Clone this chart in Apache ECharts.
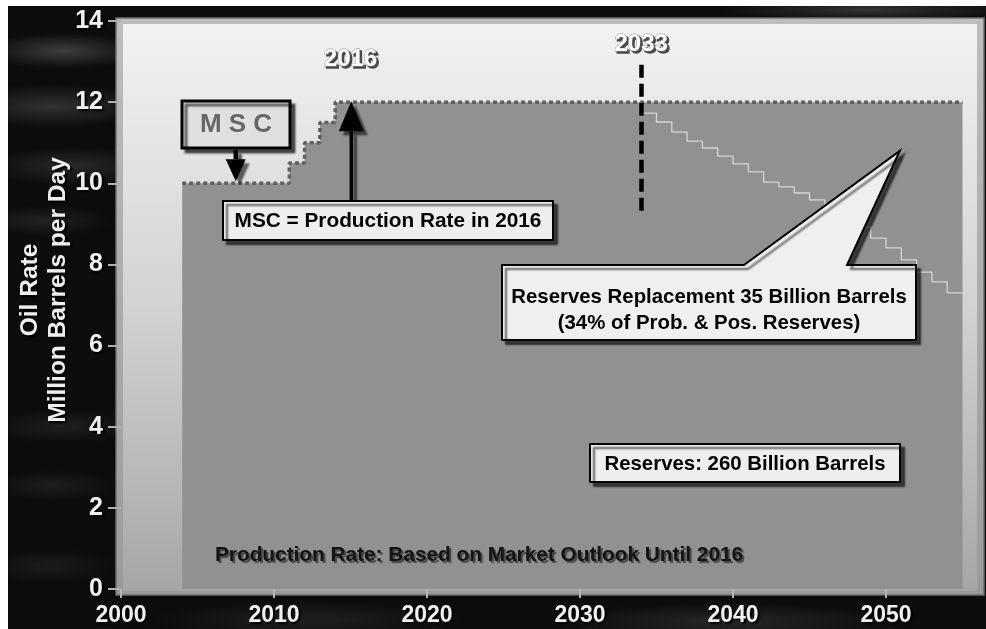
<!DOCTYPE html>
<html>
<head>
<meta charset="utf-8">
<title>Oil Rate Outlook</title>
<script src="https://cdn.jsdelivr.net/npm/echarts@6/dist/echarts.min.js"></script>
<style>
  html, body { margin: 0; padding: 0; background: #fff; }
  #wrap { position: relative; width: 986px; height: 629px; background: #fff; overflow: hidden; }
  #bg {
    position: absolute; left: 8px; top: 6px; width: 978px; height: 623px;
    background:
      radial-gradient(ellipse 80px 18px at 55px 45px, rgba(120,120,120,0.45), rgba(0,0,0,0) 100%),
      radial-gradient(ellipse 100px 22px at 45px 100px, rgba(105,105,105,0.4), rgba(0,0,0,0) 100%),
      radial-gradient(ellipse 90px 20px at 65px 160px, rgba(95,95,95,0.35), rgba(0,0,0,0) 100%),
      radial-gradient(ellipse 70px 16px at 35px 215px, rgba(85,85,85,0.3), rgba(0,0,0,0) 100%),
      radial-gradient(ellipse 80px 18px at 55px 420px, rgba(75,75,75,0.3), rgba(0,0,0,0) 100%),
      radial-gradient(ellipse 70px 16px at 45px 480px, rgba(75,75,75,0.28), rgba(0,0,0,0) 100%),
      radial-gradient(ellipse 70px 18px at 40px 560px, rgba(70,70,70,0.28), rgba(0,0,0,0) 100%),
      radial-gradient(ellipse 160px 20px at 300px 614px, rgba(70,70,70,0.35), rgba(0,0,0,0) 100%),
      radial-gradient(ellipse 180px 20px at 720px 616px, rgba(80,80,80,0.4), rgba(0,0,0,0) 100%),
      radial-gradient(ellipse 150px 10px at 860px 4px, rgba(100,100,100,0.45), rgba(0,0,0,0) 100%),
      #0c0c0c;
  }
  #chart { position: absolute; left: 0; top: 0; width: 986px; height: 629px; }
</style>
</head>
<body>
<div id="wrap">
  <div id="bg"></div>
  <div id="chart"></div>
</div>
<script>
// Axis ticks
const xTickYears = [2000, 2010, 2020, 2030, 2040, 2050];
const yTickRates = [0, 2, 4, 6, 8, 10, 12, 14];

// Production plateau (million barrels per day), step changes at the listed years
const productionYears = [2004, 2011, 2012, 2013, 2014, 2055];
const productionRate  = [10, 10.5, 11, 11.5, 12, 12];

// Rate without reserves replacement, declining yearly after the plateau
const declineYears = [2034, 2035, 2036, 2037, 2038, 2039, 2040, 2041, 2042, 2043, 2044,
                      2045, 2046, 2047, 2048, 2049, 2050, 2051, 2052, 2053, 2054, 2055];
const declineRate  = [12, 11.73, 11.51, 11.26, 11.04, 10.87, 10.67, 10.48, 10.28, 10.03, 9.91,
                      9.76, 9.59, 9.40, 9.20, 8.92, 8.65, 8.41, 8.11, 7.81, 7.57, 7.30];

// End of the market-outlook period and the end of the plateau
const mscYear = 2016;
const plateauEndYear = 2034;
const plateauEndLabel = '2033';

const FONT = '"Liberation Sans", Arial, Helvetica, sans-serif';

const chart = echarts.init(document.getElementById('chart'), null, { renderer: 'canvas' });

const zip = (xs, ys) => xs.map((x, i) => [x, ys[i]]);

chart.setOption({
  animation: false,
  backgroundColor: 'transparent',
  grid: { left: 121, right: 23.5, top: 21, bottom: 40 },
  xAxis: {
    type: 'value', min: 2000, max: 2055,
    axisLine: { show: false },
    splitLine: { show: false },
    axisTick: { show: true, customValues: xTickYears, length: 9, lineStyle: { color: '#b5b5b5', width: 2 } },
    axisLabel: {
      customValues: xTickYears,
      formatter: (v) => String(v),
      color: '#f0f0f0', fontFamily: FONT, fontWeight: 'bold', fontSize: 23, margin: 15,
      textShadowColor: '#000', textShadowOffsetX: 2, textShadowOffsetY: 2, textShadowBlur: 2
    }
  },
  yAxis: {
    type: 'value', min: 0, max: 14, interval: 2,
    axisLine: { show: false },
    splitLine: { show: false },
    axisTick: { show: true, length: 13, lineStyle: { color: '#b0b0b0', width: 2 } },
    axisLabel: {
      color: '#f0f0f0', fontFamily: FONT, fontWeight: 'bold', fontSize: 25, margin: 18,
      textShadowColor: '#000', textShadowOffsetX: 2, textShadowOffsetY: 2, textShadowBlur: 2
    }
  },
  series: [
    {
      name: 'Production',
      type: 'line',
      step: 'end',
      data: zip(productionYears, productionRate),
      symbol: 'none',
      z: 2,
      lineStyle: { color: '#5f5f5f', width: 3.5, type: [4, 3] },
      areaStyle: { color: '#919191', opacity: 1 }
    },
    {
      name: 'Decline',
      type: 'line',
      step: 'start',
      data: zip(declineYears, declineRate),
      symbol: 'none',
      z: 3,
      lineStyle: { color: '#d6d6d6', width: 1.3 },
      markLine: {
        silent: true,
        symbol: 'none',
        z: 4,
        label: { show: false },
        lineStyle: { color: '#000', width: 4.5, type: [13, 6] },
        data: [[{ coord: [plateauEndYear, 12.92] }, { coord: [plateauEndYear, 9.22] }]]
      }
    }
  ]
});

const px = (x, y) => chart.convertToPixel({ gridIndex: 0 }, [x, y]);

// Plot panel frame behind the series
const gridTop = px(2000, 14)[1], gridBottom = px(2000, 0)[1];
const panel = [
  {
    type: 'rect', z: -10, silent: true,
    shape: { x: 116, y: gridTop - 3, width: 868, height: gridBottom - gridTop + 9 },
    style: {
      fill: new echarts.graphic.LinearGradient(0, 0, 0, 1, [
        { offset: 0, color: '#bdbdbd' }, { offset: 1, color: '#9a9a9a' }
      ]),
      stroke: '#6e6e6e', lineWidth: 1.5
    }
  },
  {
    type: 'rect', z: -9, silent: true,
    shape: { x: 123, y: gridTop + 3, width: 854, height: gridBottom - gridTop - 1 },
    style: {
      fill: new echarts.graphic.LinearGradient(0, 0, 0, 1, [
        { offset: 0, color: '#f2f2f2' }, { offset: 0.5, color: '#d2d2d2' }, { offset: 1, color: '#a6a6a6' }
      ])
    }
  }
];

const shadow = { shadowColor: 'rgba(0,0,0,0.6)', shadowOffsetX: 4, shadowOffsetY: 4, shadowBlur: 2 };

// Arrow helper: shaft from (x, y0) to the tip (x, y1) with a triangular head
function arrow(x, y0, y1, shaftW, headW, headH) {
  const dir = y1 > y0 ? 1 : -1;
  const base = y1 - dir * headH;
  return [
    {
      type: 'rect', z: 50, silent: true,
      shape: { x: x - shaftW / 2, y: Math.min(y0, base), width: shaftW, height: Math.abs(base - y0) },
      style: Object.assign({ fill: '#000' }, shadow)
    },
    {
      type: 'polygon', z: 50, silent: true,
      shape: { points: [[x - headW / 2, base], [x + headW / 2, base], [x, y1]] },
      style: Object.assign({ fill: '#000' }, shadow)
    }
  ];
}

const mscTip = px(2007.5, 10.05);
const upTip = px(mscYear - 0.95, 12.02);
const calloutTip = px(2050.9, 10.8);
const lbl2016 = px(mscYear - 1, 13.05);
const lbl2033 = px(plateauEndYear, 13.42);

// Raised white year labels: a dark offset copy underneath, then the white face
function embossedLabel(pos, text) {
  const base = {
    fontFamily: FONT, fontWeight: 'bold', fontSize: 24,
    align: 'center', verticalAlign: 'middle', text: text
  };
  return [
    {
      type: 'text', z: 59, silent: true,
      style: Object.assign({ x: pos[0] + 2, y: pos[1] + 2, fill: '#4a4a4a', stroke: '#4a4a4a', lineWidth: 1.5 }, base)
    },
    {
      type: 'text', z: 60, silent: true,
      style: Object.assign({ x: pos[0], y: pos[1], fill: '#ffffff', stroke: '#8a8a8a', lineWidth: 0.8 }, base)
    }
  ];
}

const boxText = (x, y, text, size) => ({
  type: 'text', z: 60, silent: true,
  style: {
    x: x, y: y, text: text, fill: '#000',
    fontFamily: FONT, fontWeight: 'bold', fontSize: size,
    align: 'center', verticalAlign: 'middle'
  }
});

const notes = [
  // Axis title
  {
    type: 'text', z: 60, silent: true, x: 44, y: 290, rotation: Math.PI / 2,
    style: {
      text: 'Oil Rate\nMillion Barrels per Day', fill: '#eeeeee',
      fontFamily: FONT, fontWeight: 'bold', fontSize: 24.5, lineHeight: 28,
      align: 'center', verticalAlign: 'middle',
      textShadowColor: '#000', textShadowOffsetX: 2, textShadowOffsetY: 2, textShadowBlur: 2
    }
  },
  // Year markers
  ...embossedLabel(lbl2016, String(mscYear)),
  ...embossedLabel(lbl2033, plateauEndLabel),

  // MSC box and its arrow
  {
    type: 'rect', z: 55, silent: true,
    shape: { x: 182, y: 101, width: 108, height: 47 },
    style: Object.assign({ fill: '#e0e0e0', stroke: '#000', lineWidth: 3 }, shadow)
  },
  {
    type: 'text', z: 60, silent: true,
    style: {
      x: 236, y: 125, text: 'M S C', fill: '#666666',
      fontFamily: FONT, fontWeight: 'bold', fontSize: 26, align: 'center', verticalAlign: 'middle'
    }
  },
  ...arrow(mscTip[0], 150, mscTip[1], 4.5, 20, 22),

  // MSC definition box with the arrow up to the plateau
  ...arrow(upTip[0], 201, upTip[1], 3.5, 25, 30),
  {
    type: 'rect', z: 55, silent: true,
    shape: { x: 223, y: 201, width: 330, height: 39 },
    style: Object.assign({ fill: '#eeeeee', stroke: '#000', lineWidth: 2 }, shadow)
  },
  boxText(388, 221, 'MSC = Production Rate in 2016', 20.8),

  // Reserves replacement callout
  {
    type: 'polygon', z: 55, silent: true,
    shape: {
      points: [[502, 265], [744, 265], calloutTip, [847, 265], [916, 265], [916, 340], [502, 340]]
    },
    style: Object.assign({ fill: '#efefef', stroke: '#000', lineWidth: 2, lineJoin: 'miter' }, shadow)
  },
  boxText(709, 297, 'Reserves Replacement 35 Billion Barrels', 20.4),
  boxText(709, 323, '(34% of Prob. & Pos. Reserves)', 20.4),

  // Total reserves box
  {
    type: 'rect', z: 55, silent: true,
    shape: { x: 590, y: 444, width: 310, height: 38 },
    style: Object.assign({ fill: '#eeeeee', stroke: '#000', lineWidth: 2 }, shadow)
  },
  boxText(745, 464, 'Reserves: 260 Billion Barrels', 20.4),

  // Footnote inside the plot
  {
    type: 'text', z: 60, silent: true,
    style: {
      x: 215, y: 555, text: 'Production Rate: Based on Market Outlook Until 2016', fill: '#141414',
      fontFamily: FONT, fontWeight: 'bold', fontSize: 20.8, align: 'left', verticalAlign: 'middle',
      textShadowColor: 'rgba(60,60,60,0.9)', textShadowOffsetX: 2, textShadowOffsetY: 2, textShadowBlur: 1
    }
  }
];

chart.setOption({ graphic: { elements: panel.concat(notes) } });
</script>
</body>
</html>
